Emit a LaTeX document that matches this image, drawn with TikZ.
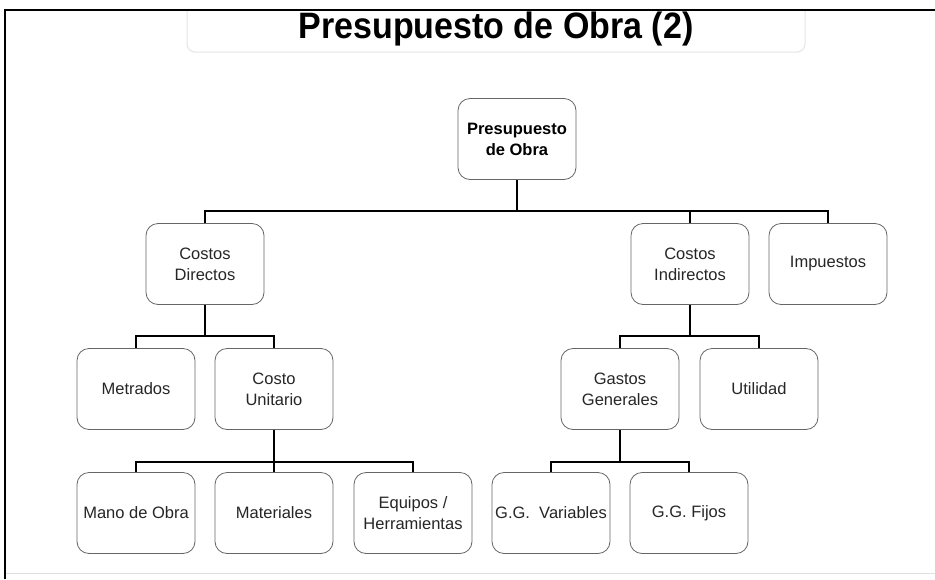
\documentclass[tikz,border=0pt]{standalone}
\usepackage{fontspec}
\setmainfont{Liberation Sans}
\begin{document}
\begin{tikzpicture}[x=1pt,y=-1pt,
  box/.style={draw=black!60, line width=0.8pt, rounded corners=12pt, fill=white,
    minimum width=118pt, minimum height=81pt, inner sep=1pt, align=center,
    text=black!85, font=\fontsize{16.5}{21}\selectfont},
  conn/.style={line width=2.6pt, black, line join=miter}]
\useasboundingbox (0,0) rectangle (935,579);
\fill[white] (0,0) rectangle (935,579);
% frame
\draw[black!12, line width=1pt] (5,573) -- (935,573);
\draw[line width=2pt] (5,579) -- (5,10) -- (935,10);
% title box
\draw[black!10, line width=1pt, rounded corners=8pt] (187,11) -- (187,52) -- (805,52) -- (805,11);
\node[font=\fontsize{34}{36}\selectfont\bfseries, inner sep=0pt, yscale=1.08] (title) at (496,29) {Presupuesto de Obra (2)};
% nodes
\node[box, text=black, font=\fontsize{16.5}{21}\selectfont\bfseries] (root) at (517,139) {Presupuesto\\de Obra};
\node[box] (cd) at (205,264) {Costos\\Directos};
\node[box] (ci) at (690,264) {Costos\\Indirectos};
\node[box] (imp) at (828,264) {Impuestos};
\node[box] (met) at (136,389) {Metrados};
\node[box] (cu) at (274,389) {Costo\\Unitario};
\node[box] (gg) at (620,389) {Gastos\\Generales};
\node[box] (uti) at (759,389) {Utilidad};
\node[box] (mo) at (136,513) {Mano de Obra};
\node[box] (mat) at (274,513) {Materiales};
\node[box] (eq) at (413,513) {Equipos /\\Herramientas};
\node[box] (ggv) at (551,513) {G.G.\ \ Variables};
\node[box] (ggf) at (689,513) {G.G. Fijos};
% buses
\coordinate (b0) at (517,211);
\coordinate (b1) at (205,336);
\coordinate (b2) at (690,336);
\coordinate (b3) at (274,462);
\coordinate (b4) at (620,462);
% connectors
\draw[conn] (root.south) -- (b0);
\draw[conn] (cd.north) |- (b0) -| (imp.north);
\draw[conn] (ci.north) -- (ci.north |- b0);
\draw[conn] (cd.south) -- (b1);
\draw[conn] (met.north) |- (b1) -| (cu.north);
\draw[conn] (ci.south) -- (b2);
\draw[conn] (gg.north) |- (b2) -| (uti.north);
\draw[conn] (cu.south) -- (b3);
\draw[conn] (mo.north) |- (b3) -| (eq.north);
\draw[conn] (mat.north) -- (mat.north |- b3);
\draw[conn] (gg.south) -- (b4);
\draw[conn] (ggv.north) |- (b4) -| (ggf.north);
\end{tikzpicture}
\end{document}
